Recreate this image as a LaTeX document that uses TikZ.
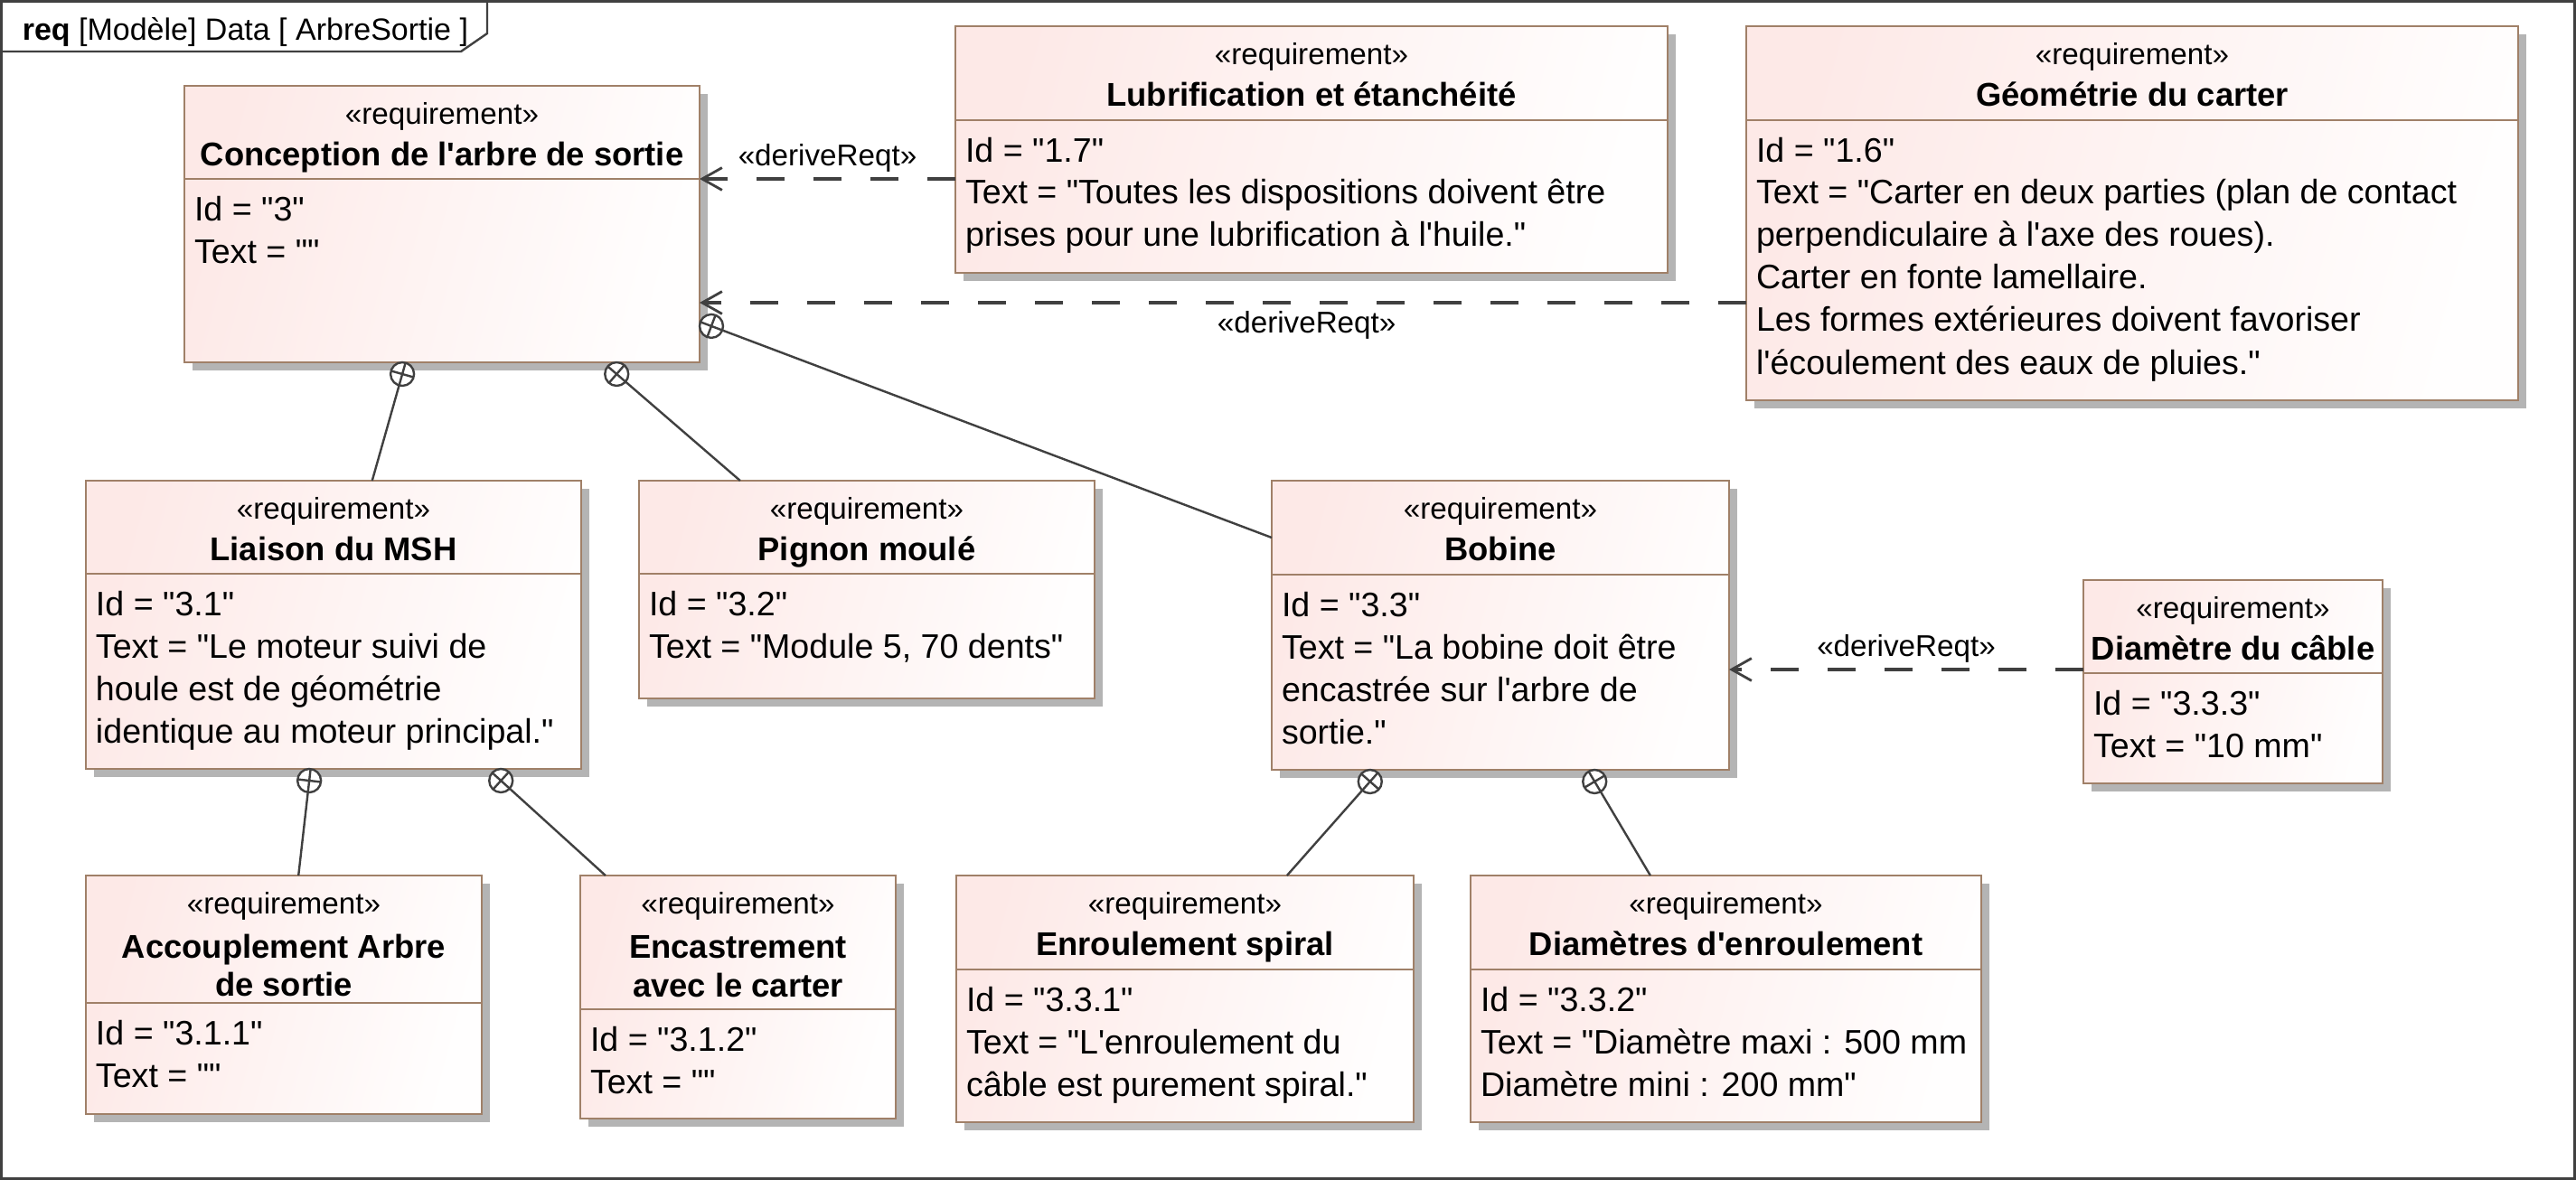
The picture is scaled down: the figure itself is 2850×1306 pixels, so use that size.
\documentclass[tikz,border=0pt]{standalone}
\usepackage{fontspec}
\newfontfamily\lsans{Liberation Sans}
\usetikzlibrary{calc,shadows,arrows.meta}
\definecolor{reqpink}{RGB}{253,233,231}
\definecolor{reqwhite}{RGB}{255,254,254}
\definecolor{boxbrown}{RGB}{160,128,104}
\definecolor{shadowgray}{RGB}{180,180,180}
\definecolor{linegray}{RGB}{64,64,64}
\newcommand\bl[1]{\hbox{#1}}
\newcommand\reqnode[7]{%
  \node[reqbox, minimum width={(#4-#2)*0.25pt}, minimum height={(#5-#3)*0.25pt}] (#1) at (#2,#3) {};
  \draw[boxline] ($(#1.north west)+(0,#6-#3)$) -- ($(#1.north east)+(0,#6-#3)$);
  \node[stereo] (#1-st) at ($(#1.north)+(0,42.5)$) {«requirement»};
  \node[bodytext] (#1-bd) at ($(#1.north west)+(11,#6-#3+46)$) {\vtop{\baselineskip=11.75pt\lineskiplimit=-20pt #7}};
}
\begin{document}
\begin{tikzpicture}[x=0.25pt,y=-0.25pt,
  reqbox/.style={rectangle, anchor=north west, inner sep=0pt, outer sep=0pt,
    draw=boxbrown, line width=0.65pt, top color=reqpink, bottom color=reqwhite, shading angle=75,
    general shadow={fill=shadowgray, shadow xshift=2.3pt, shadow yshift=-2.3pt}},
  boxline/.style={draw=boxbrown, line width=0.65pt},
  stereo/.style={anchor=base, inner sep=0pt, font=\lsans\fontsize{8.3}{10}\selectfont},
  titletext/.style={anchor=base, inner sep=0pt, font=\lsans\bfseries\fontsize{9.1}{11}\selectfont},
  bodytext/.style={anchor=base west, inner sep=0pt, outer sep=0pt, font=\lsans\fontsize{9.4}{11.75}\selectfont},
  lab/.style={inner sep=0pt, font=\lsans\fontsize{8.3}{10}\selectfont},
  derive/.style={draw=linegray, line width=0.8pt, dash pattern=on 7.75pt off 8pt,
    -{Straight Barb[length=5.5pt,width=6.2pt,line width=0.7pt]}},
  cline/.style={draw=linegray, line width=0.6pt},
  contain/.style={circle, draw=linegray, line width=0.6pt, fill=white, minimum size=6.5pt, inner sep=0pt, outer sep=0pt},
  frameline/.style={draw=linegray, line width=0.75pt}
]
\useasboundingbox (0,0) rectangle (2850,1306);
\fill[white] (0,0) rectangle (2850,1306);
% frame
\draw[frameline] (1.5,1.5) rectangle (2848.5,1304.5);
\draw[draw=linegray, line width=0.6pt] (0,57) -- (510,57) -- (539,37) -- (539,0);
\node[anchor=base west, inner sep=0pt, font=\lsans\fontsize{8.5}{10}\selectfont] (frametitle) at (24,44)
  {\textbf{req} [Modèle] Data [ ArbreSortie ]};

% boxes
\reqnode{conc}{204}{95}{774}{401}{198}{\bl{Id = "3"}\bl{Text = ""}}
\node[titletext] (conc-ti) at ($(conc.north)+(0,88)$) {Conception de l'arbre de sortie};

\reqnode{lub}{1057}{29}{1845}{302}{133}{\bl{Id = "1.7"}\bl{Text = "Toutes les dispositions doivent être}\bl{prises pour une lubrification à l'huile."}}
\node[titletext] (lub-ti) at ($(lub.north)+(0,88)$) {Lubrification et étanchéité};

\reqnode{geo}{1932}{29}{2786}{443}{133}{\bl{Id = "1.6"}\bl{Text = "Carter en deux parties (plan de contact}\bl{perpendiculaire à l'axe des roues).}\bl{Carter en fonte lamellaire.}\bl{Les formes extérieures doivent favoriser}\bl{l'écoulement des eaux de pluies."}}
\node[titletext] (geo-ti) at ($(geo.north)+(0,88)$) {Géométrie du carter};

\reqnode{liai}{95}{532}{643}{851}{635}{\bl{Id = "3.1"}\bl{Text = "Le moteur suivi de}\bl{houle est de géométrie}\bl{identique au moteur principal."}}
\node[titletext] (liai-ti) at ($(liai.north)+(0,88)$) {Liaison du MSH};

\reqnode{pign}{707}{532}{1211}{773}{635}{\bl{Id = "3.2"}\bl{Text = "Module 5, 70 dents"}}
\node[titletext] (pign-ti) at ($(pign.north)+(0,88)$) {Pignon moulé};

\reqnode{bob}{1407}{532}{1913}{852}{636}{\bl{Id = "3.3"}\bl{Text = "La bobine doit être}\bl{encastrée sur l'arbre de}\bl{sortie."}}
\node[titletext] (bob-ti) at ($(bob.north)+(0,88)$) {Bobine};

\reqnode{diac}{2305}{642}{2636}{867}{745}{\bl{Id = "3.3.3"}\bl{Text = "10 mm"}}
\node[titletext] (diac-ti) at ($(diac.north)+(0,88)$) {Diamètre du câble};

\reqnode{acc}{95}{969}{533}{1233}{1110}{\bl{Id = "3.1.1"}\bl{Text = ""}}
\node[titletext] (acc-ti1) at ($(acc.north)+(0,91)$) {Accouplement Arbre};
\node[titletext] (acc-ti2) at ($(acc.north)+(0,133)$) {de sortie};

\reqnode{enc}{642}{969}{991}{1238}{1117}{\bl{Id = "3.1.2"}\bl{Text = ""}}
\node[titletext] (enc-ti1) at ($(enc.north)+(0,91)$) {Encastrement};
\node[titletext] (enc-ti2) at ($(enc.north)+(0,134)$) {avec le carter};

\reqnode{enr}{1058}{969}{1564}{1242}{1073}{\bl{Id = "3.3.1"}\bl{Text = "L'enroulement du}\bl{câble est purement spiral."}}
\node[titletext] (enr-ti) at ($(enr.north)+(0,88)$) {Enroulement spiral};

\reqnode{dia}{1627}{969}{2192}{1242}{1073}{\bl{Id = "3.3.2"}\bl{Text = "Diamètre maxi : 500 mm}\bl{Diamètre mini : 200 mm"}}
\node[titletext] (dia-ti) at ($(dia.north)+(0,88)$) {Diamètres d'enroulement};

% derive connectors
\draw[derive] ($(lub.north west)+(0,169)$) -- node[lab, anchor=south, yshift=1.5pt] (dl1) {«deriveReqt»} ($(conc.north east)+(0,103)$);
\draw[derive] ($(geo.north west)+(0,306)$) -- node[lab, pos=0.42, anchor=north, yshift=-2pt] (dl2) {«deriveReqt»} ($(conc.north east)+(0,240)$);
\draw[derive] ($(diac.north west)+(0,99)$) -- node[lab, anchor=south, yshift=1.5pt] (dl3) {«deriveReqt»} ($(bob.north east)+(0,209)$);

% containment connectors
\coordinate (t1) at ($(liai.north west)!0.578!(liai.north east)$);
\coordinate (t2) at ($(pign.north west)!0.222!(pign.north east)$);
\coordinate (t3) at ($(bob.north west)!0.197!(bob.south west)$);
\coordinate (t4) at ($(acc.north west)!0.537!(acc.north east)$);
\coordinate (t5) at ($(enc.north west)!0.080!(enc.north east)$);
\coordinate (t6) at ($(enr.north west)!0.723!(enr.north east)$);
\coordinate (t7) at ($(dia.north west)!0.352!(dia.north east)$);
\node[contain] (c1) at ($(conc.south west)!0.423!(conc.south east)+(0,13)$) {};
\node[contain] (c2) at ($(conc.south west)!0.839!(conc.south east)+(0,13)$) {};
\node[contain] (c3) at ($(conc.north east)!0.869!(conc.south east)+(13,0)$) {};
\node[contain] (c4) at ($(liai.south west)!0.451!(liai.south east)+(0,13)$) {};
\node[contain] (c5) at ($(liai.south west)!0.838!(liai.south east)+(0,13)$) {};
\node[contain] (c6) at ($(bob.south west)!0.215!(bob.south east)+(0,13)$) {};
\node[contain] (c7) at ($(bob.south west)!0.706!(bob.south east)+(0,13)$) {};
\foreach \c/\t in {c1/t1,c2/t2,c3/t3,c4/t4,c5/t5,c6/t6,c7/t7}{
  \draw[cline] (\c) -- (\t);
  \draw[cline] ($(\c)!3.25pt!(\t)$) -- ($(\c)!-3.25pt!(\t)$)
               ($(\c)!3.25pt!90:(\t)$) -- ($(\c)!3.25pt!-90:(\t)$);
}
\end{tikzpicture}
\end{document}
